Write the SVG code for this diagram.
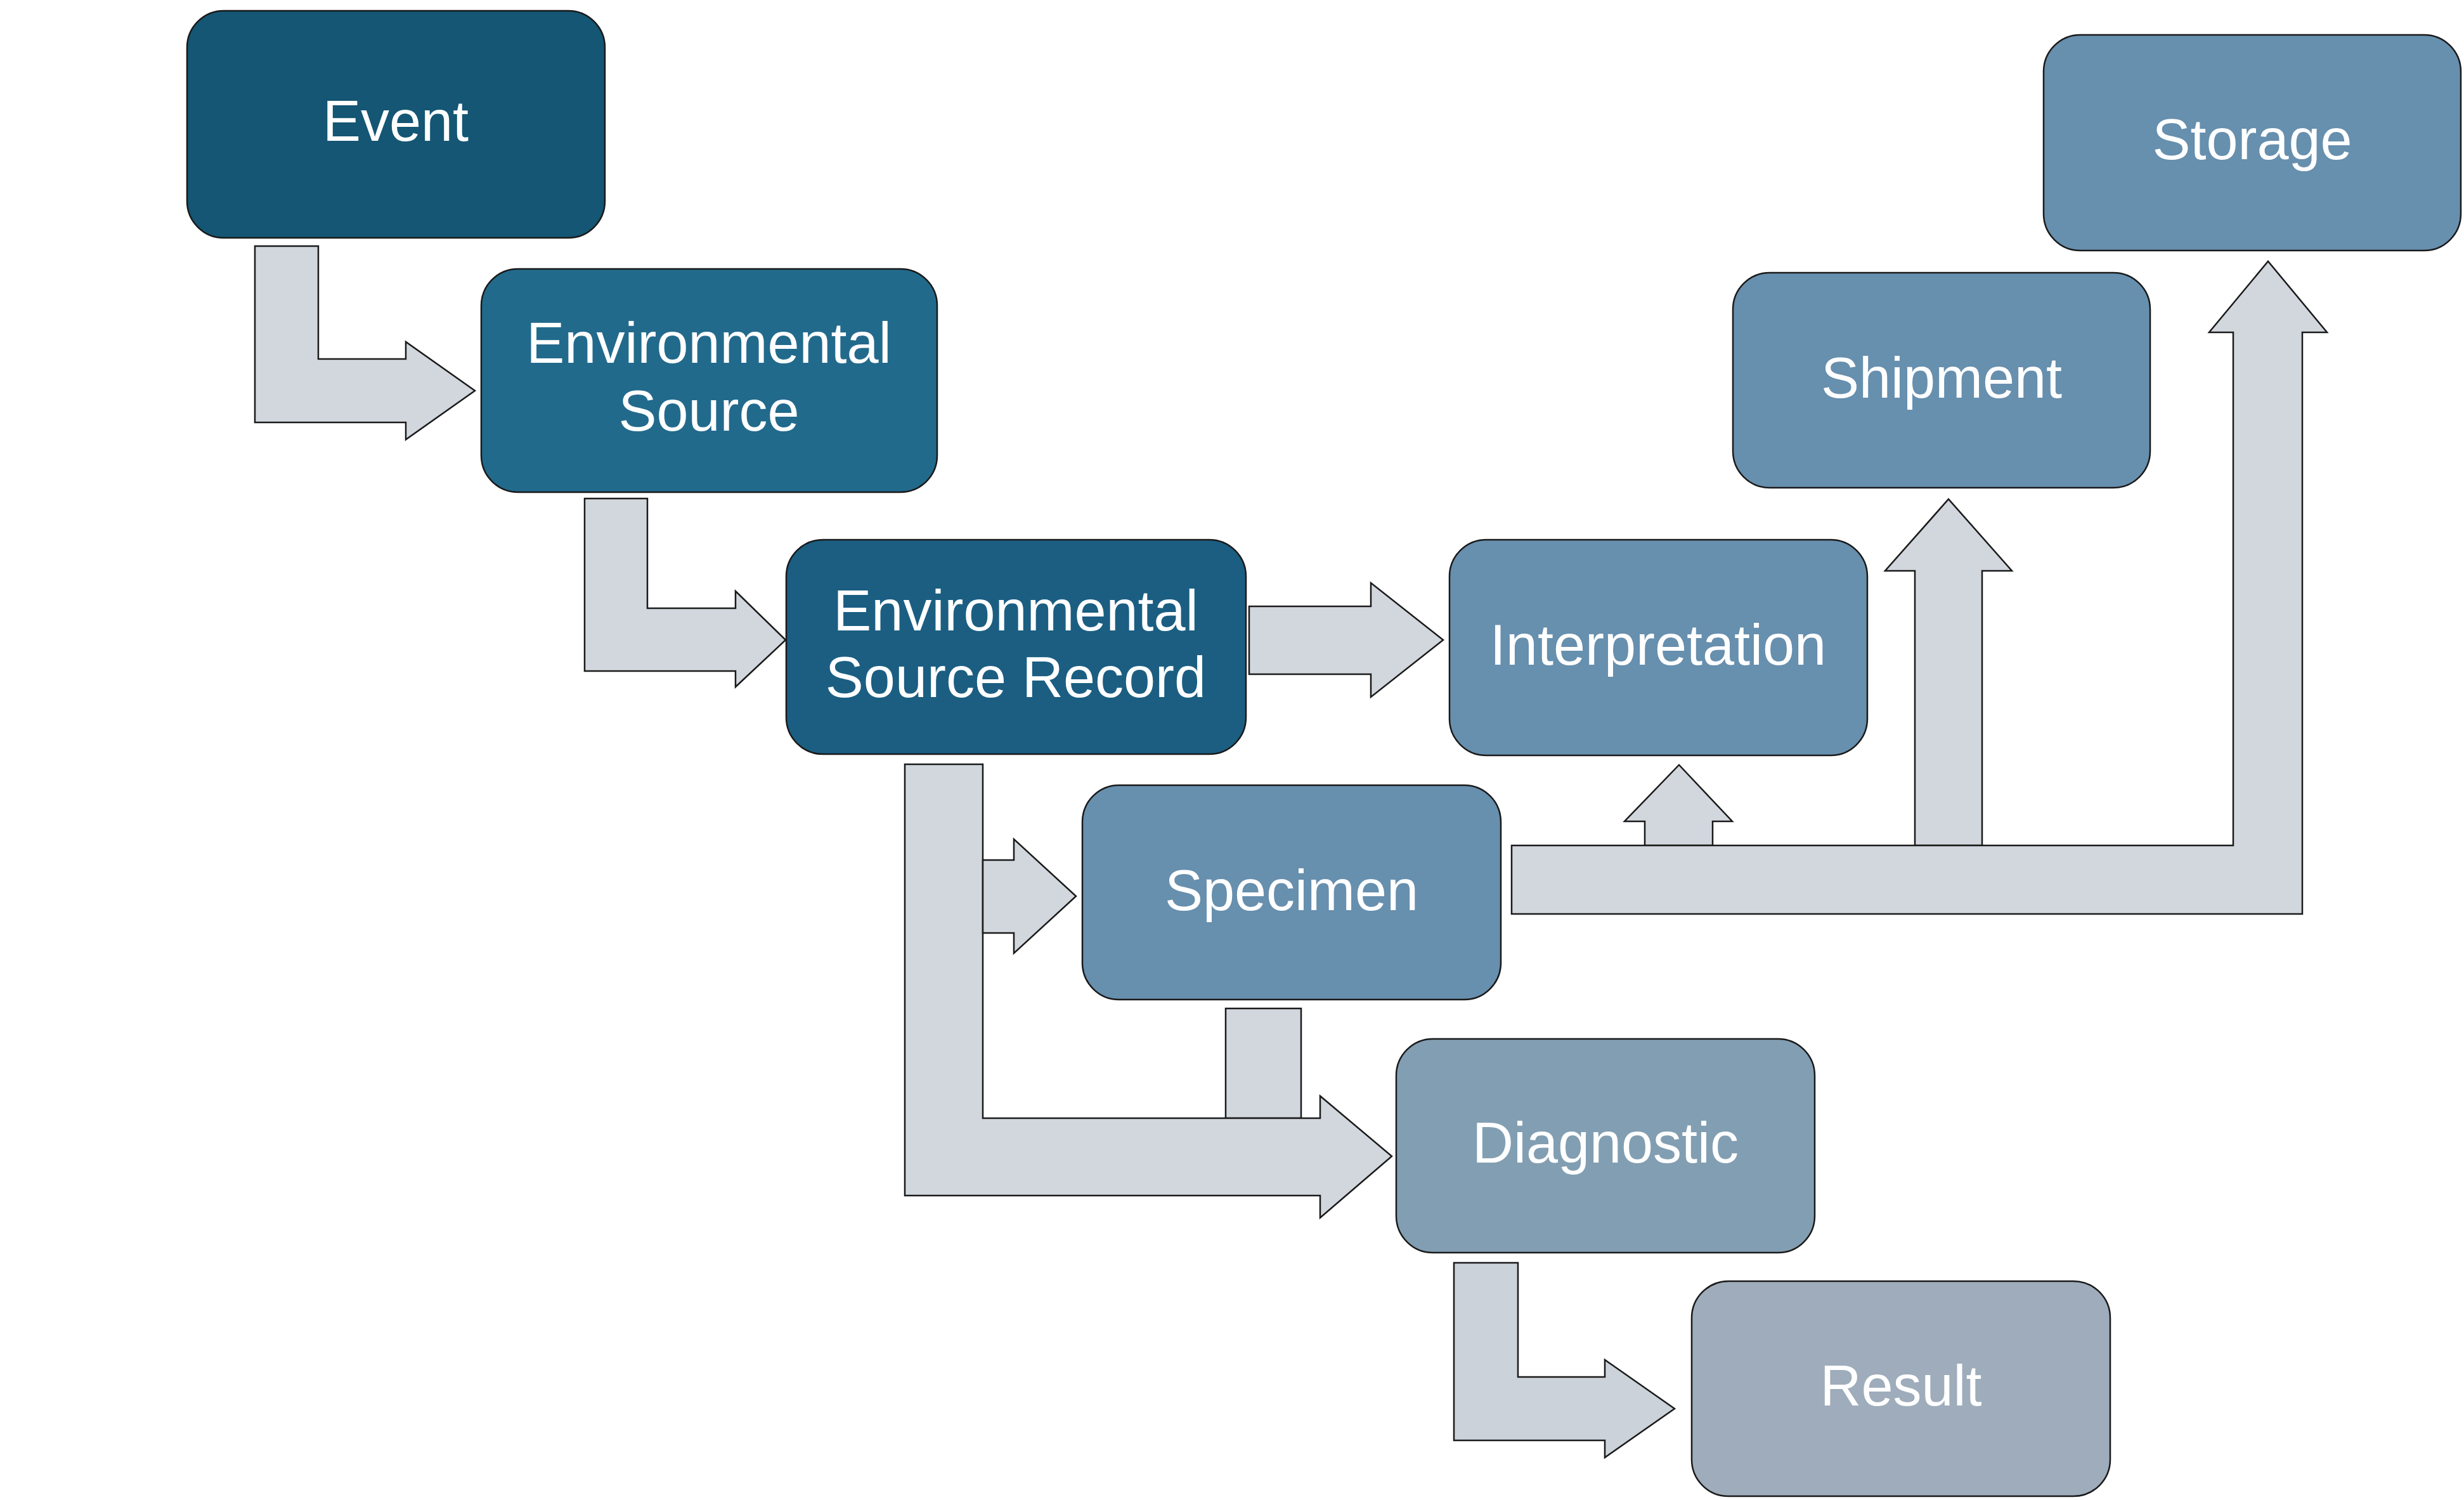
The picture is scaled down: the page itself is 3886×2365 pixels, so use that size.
<svg xmlns="http://www.w3.org/2000/svg" width="3886" height="2365" viewBox="0 0 3886 2365">
<style>
.box{stroke:#1a1a1a;stroke-width:2.5}
.lbl{font-family:"Liberation Sans","Noto Sans",sans-serif;font-size:90px;fill:#ffffff;text-anchor:middle}
.arr{fill:#d2d7de;stroke:#1a1a1a;stroke-width:2.5;stroke-linejoin:miter}
</style>
<rect width="3886" height="2365" fill="#ffffff"/>
<g id="connectors">
<polygon class="arr" points="402,388 502,388 502,566 640,566 640,539 749,616 640,693 640,666 402,666"/>
<polygon class="arr" points="922,786 1021,786 1021,959 1160,959 1160,932 1239,1009 1160,1083 1160,1058 922,1058"/>
<polygon class="arr" points="1970,956 2162,956 2162,919 2276,1009 2162,1099 2162,1063 1970,1063"/>
<rect class="arr" x="1933" y="1590" width="119" height="173"/>
<polygon class="arr" points="1427,1205 1550,1205 1550,1763 2082,1763 2082,1728 2195,1823 2082,1920 2082,1885 1427,1885"/>
<polygon class="arr" points="1550,1356 1599,1356 1599,1323 1697,1413 1599,1503 1599,1471 1550,1471"/>
<polygon class="arr" points="2594,1333 2594,1295 2562,1295 2648,1206 2732,1295 2701,1295 2701,1333"/>
<polygon class="arr" points="3020,1333 3020,900 2973,900 3073,787 3173,900 3126,900 3126,1333"/>
<polygon class="arr" points="2384,1333 3522,1333 3522,524 3484,524 3577,412 3670,524 3631,524 3631,1441 2384,1441"/>
<polygon class="arr" style="fill:#cbd2da" points="2293,1991 2394,1991 2394,2171 2531,2171 2531,2144 2641,2221 2531,2298 2531,2271 2293,2271"/>
</g>
<g id="event">
<rect class="box" x="295" y="17" width="659" height="358" rx="58" fill="#145673"/>
<text class="lbl" x="624" y="222">Event</text>
</g>
<g id="environmental-source">
<rect class="box" x="759" y="424" width="719" height="352" rx="58" fill="#226a8c" stroke="none"/>
<text class="lbl" x="1118" y="572">Environmental</text>
<text class="lbl" x="1118" y="679">Source</text>
</g>
<g id="environmental-source-record">
<rect class="box" x="1240" y="851" width="725" height="338" rx="58" fill="#1b5e82"/>
<text class="lbl" x="1602" y="994">Environmental</text>
<text class="lbl" x="1602" y="1099">Source Record</text>
</g>
<g id="interpretation">
<rect class="box" x="2286" y="851" width="659" height="340" rx="58" fill="#678fae"/>
<text class="lbl" x="2615" y="1048">Interpretation</text>
</g>
<g id="shipment">
<rect class="box" x="2733" y="430" width="658" height="339" rx="58" fill="#678fae"/>
<text class="lbl" x="3062" y="627">Shipment</text>
</g>
<g id="storage">
<rect class="box" x="3223" y="55" width="658" height="340" rx="58" fill="#678fae"/>
<text class="lbl" x="3552" y="251">Storage</text>
</g>
<g id="specimen">
<rect class="box" x="1707" y="1238" width="660" height="338" rx="58" fill="#678fae"/>
<text class="lbl" x="2037" y="1435">Specimen</text>
</g>
<g id="diagnostic">
<rect class="box" x="2202" y="1638" width="660" height="337" rx="58" fill="#829eb2"/>
<text class="lbl" x="2532" y="1833">Diagnostic</text>
</g>
<g id="result">
<rect class="box" x="2668" y="2020" width="660" height="339" rx="58" fill="#9eacbb"/>
<text class="lbl" x="2998" y="2216">Result</text>
</g>
</svg>
